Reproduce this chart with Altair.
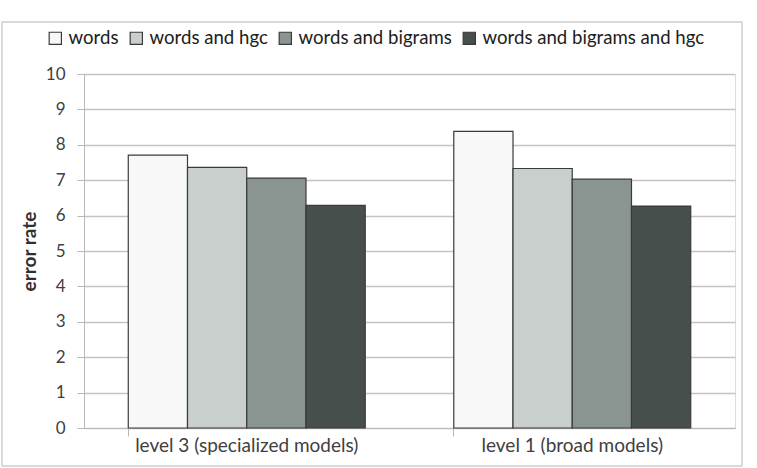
import altair as alt
import pandas as pd

categories = ["level 3 (specialized models)", "level 1 (broad models)"]
series = ["words", "words and hgc", "words and bigrams", "words and bigrams and hgc"]
values = {
    "words": [7.71, 8.38],
    "words and hgc": [7.36, 7.33],
    "words and bigrams": [7.06, 7.03],
    "words and bigrams and hgc": [6.29, 6.27],
}
colors = ["#f8f8f8", "#c9cfcc", "#8a9490", "#474f4d"]

rows = []
for s in series:
    for c, v in zip(categories, values[s]):
        rows.append({"category": c, "series": s, "value": v})
df = pd.DataFrame(rows)

FONT = "Lato"

bars = alt.Chart(df).mark_bar(stroke="#3a3a3a", strokeWidth=1.2).encode(
    x=alt.X("category:N", sort=categories, title=None,
            scale=alt.Scale(paddingInner=0.272, paddingOuter=0.136),
            axis=alt.Axis(labelAngle=0, labelFontSize=19, labelColor="#404040",
                          labelFont=FONT, domainColor="#b8b8b8", tickColor="#b8b8b8",
                          tickSize=8, bandPosition=0, labelPadding=0, grid=False,
                          labelLimit=400)),
    xOffset=alt.XOffset("series:N", sort=series, scale=alt.Scale(paddingInner=0, paddingOuter=0)),
    y=alt.Y("value:Q", title="error rate",
            scale=alt.Scale(domain=[0, 10], nice=False),
            axis=alt.Axis(values=list(range(0, 11)), labelFontSize=17, labelColor="#404040",
                          labelFont=FONT, titleFont=FONT, titleFontSize=19, titleFontWeight="bold",
                          titleColor="#303030", titlePadding=6, domainColor="#b8b8b8",
                          tickColor="#b8b8b8", tickSize=7, labelPadding=12,
                          grid=True, gridColor="#c4c4c4", gridWidth=1.3)),
    color=alt.Color("series:N", sort=series,
                    scale=alt.Scale(domain=series, range=colors),
                    legend=alt.Legend(title=None, orient="none", direction="horizontal",
                                      legendX=-38, legendY=-45, symbolType="square",
                                      symbolSize=150, symbolStrokeColor="#3a3a3a",
                                      symbolStrokeWidth=1.2, labelFontSize=18.6, labelFont=FONT,
                                      labelColor="#202020", columnPadding=8, labelOffset=4,
                                      labelLimit=400)),
)

border = alt.Chart(pd.DataFrame({"a": [0]})).mark_rect(
    fill=None, stroke="#d0d0d0", strokeWidth=1.5, clip=False
).encode(
    x=alt.value(-82), x2=alt.value(658), y=alt.value(-52), y2=alt.value(392)
)

chart = alt.layer(border, bars).properties(
    width=651, height=354,
    padding={"left": 84, "top": 74, "right": 22, "bottom": 40},
    autosize=alt.AutoSizeParams(type="none"),
).configure_view(stroke=None).configure(background="white")

chart.save("out.html", embed_options={"renderer": "svg", "actions": False})
